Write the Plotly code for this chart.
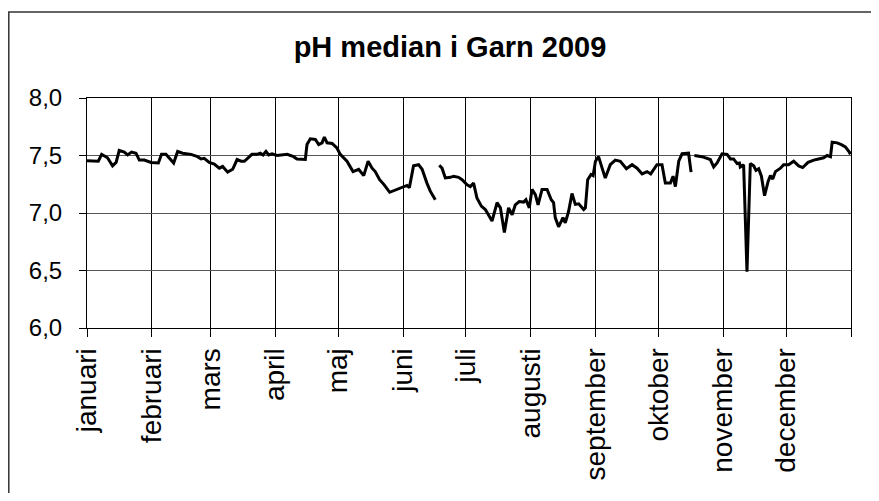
import plotly.graph_objects as go

# Day of year (0 = 1 January 2009) and median pH; None marks gaps in the record
days = [0.0, 2.7, 5.4, 7.0, 9.8, 12.2, 13.9, 15.4, 17.8, 19.4, 21.3, 23.4, 25.0, 27.4, 30.6,
        34.1, 35.6, 37.7, 39.3, 41.4, 43.3, 45.7, 49.7, 52.8, 54.5, 56.0, 58.4, 60.8, 63.2,
        64.8, 67.2, 69.6, 71.7, 73.6, 75.2, 78.8, 81.2, 82.8, 84.1, 85.5, 86.8, 88.4, 90.8,
        95.6, 98.7, 100.3, 104.3, 105.1, 106.7, 109.1, 110.7, 112.3, 113.4, 114.7, 117.1,
        119.4, 121.0, 124.2, 127.1, 129.8, 132.2, 134.3, 136.2, 137.7, 139.8, 142.0, 144.6,
        147.3, 149.7, 151.3, 152.9, 154.0, 155.0, 156.0, 158.4, 160.1, 162.4, 164.0, 166.4,
        167.3,
        168.3, 169.6, 171.2, 173.6, 175.2, 177.5, 179.2, 181.6, 183.1, 184.7, 186.3, 188.4,
        190.3, 193.5, 195.9, 197.5, 199.4, 201.4, 203.1, 204.6, 206.5, 208.6, 209.7, 211.3,
        212.6, 214.2, 215.5, 217.4, 219.8, 221.8, 222.9, 223.7, 225.3, 227.4, 228.5, 230.1,
        231.7, 233.3, 234.9, 237.3, 238.1, 239.2, 240.8, 241.8, 242.9, 244.4, 246.1, 247.6,
        250.0, 252.4, 254.8, 257.7, 260.4, 262.8, 265.2, 267.6, 269.3, 272.3, 274.7, 276.3,
        278.7, 280.0, 281.1, 282.7, 284.3, 285.8, 287.4, 288.6,
        289.4,
        290.2, 293.8, 297.8, 299.4, 301.0, 303.4, 305.8, 307.4, 308.9, 310.6, 311.7, 312.1,
        313.7, 315.3, 316.9, 318.5, 319.6, 320.9, 322.2, 323.7, 325.4, 326.5, 327.6, 328.9,
        331.3, 332.8, 335.2, 337.6, 340.0, 341.9, 344.5, 347.2, 349.5, 351.9, 353.6, 355.2,
        356.0, 358.4, 360.4, 362.3, 364.2, 364.7]

ph = [7.455, 7.45, 7.45, 7.51, 7.48, 7.41, 7.44, 7.545, 7.53, 7.505, 7.53, 7.52, 7.46, 7.46, 7.44,
      7.435, 7.51, 7.51, 7.48, 7.435, 7.535, 7.52, 7.51, 7.49, 7.47, 7.475, 7.44, 7.425, 7.39,
      7.405, 7.355, 7.38, 7.465, 7.45, 7.45, 7.51, 7.51, 7.52, 7.505, 7.535, 7.505, 7.515, 7.50,
      7.51, 7.49, 7.47, 7.465, 7.595, 7.645, 7.64, 7.595, 7.61, 7.66, 7.61, 7.605,
      7.565, 7.51, 7.45, 7.36, 7.38, 7.325, 7.45, 7.39, 7.36, 7.29, 7.245, 7.18,
      7.20, 7.22, 7.225, 7.24, 7.22, 7.32, 7.41, 7.42, 7.38, 7.26, 7.19, 7.115,
      None,
      7.415, 7.39, 7.305, 7.31, 7.32, 7.31, 7.29, 7.245, 7.23, 7.26, 7.13, 7.06,
      7.03, 6.93, 7.09, 7.045, 6.83, 7.045, 6.985, 7.07, 7.10, 7.095, 7.115, 7.045,
      7.205, 7.16, 7.07, 7.205, 7.205, 7.115, 7.09, 6.96, 6.88, 6.96, 6.915, 7.015,
      7.17, 7.075, 7.08, 7.03, 7.045, 7.29, 7.335, 7.325, 7.45, 7.49, 7.39, 7.305,
      7.42, 7.46, 7.45, 7.385, 7.42, 7.39, 7.34, 7.36, 7.34, 7.42, 7.42, 7.26,
      7.26, 7.32, 7.23, 7.45, 7.515, 7.515, 7.52, 7.355,
      None,
      7.50, 7.49, 7.465, 7.40, 7.435, 7.515, 7.51, 7.47, 7.47, 7.43, 7.435, 7.40,
      7.42, 6.49, 7.43, 7.41, 7.37, 7.385, 7.32, 7.15, 7.275, 7.325, 7.295, 7.36,
      7.39, 7.42, 7.42, 7.45, 7.41, 7.395, 7.44, 7.46, 7.47, 7.48, 7.50, 7.49,
      7.615, 7.61, 7.595, 7.575, 7.53, 7.51]

month_starts = [0, 31, 59, 90, 120, 151, 181, 212, 243, 273, 304, 334]
month_labels = ["januari", "februari", "mars", "april", "maj", "juni", "juli",
                "augusti", "september", "oktober", "november", "december"]
y_ticks = [6.0, 6.5, 7.0, 7.5, 8.0]
title_text = "pH median i Garn 2009"

FONT = "Arial, Liberation Sans, sans-serif"
# the page body adds an 8 px margin, so the figure is sized to fit the window
W, H = 871, 485
ML, MR, MT, MB = 79, 28, 90, 165

fig = go.Figure()
fig.add_trace(go.Scatter(x=days, y=ph, mode="lines", connectgaps=False,
                         line=dict(color="black", width=3), hoverinfo="skip",
                         showlegend=False))

fig.update_layout(
    template="none",
    width=W, height=H,
    margin=dict(l=ML, r=MR, t=MT, b=MB, autoexpand=False),
    paper_bgcolor="white", plot_bgcolor="white",
    separators=", ",
    font=dict(family=FONT, color="black"),
    title=dict(text="<b>" + title_text + "</b>", x=442 / W, xanchor="center",
               y=1 - 39 / H, yanchor="middle", yref="container",
               font=dict(size=29, family=FONT, color="black")),
)
fig.update_xaxes(range=[0, 365], tickmode="array", tickvals=month_starts + [365],
                 ticktext=month_labels + [""], tickangle=-90,
                 tickfont=dict(size=28, family=FONT, color="black"),
                 ticks="outside", ticklen=8, tickcolor="black", tickwidth=1,
                 showgrid=True, gridcolor="black", gridwidth=1,
                 showline=True, linecolor="black", linewidth=1, mirror=True,
                 zeroline=False)
fig.update_yaxes(range=[6.0, 8.0], tickmode="array", tickvals=y_ticks,
                 tickformat=".1f",
                 tickfont=dict(size=24, family=FONT, color="black"),
                 ticks="outside", ticklen=7, tickcolor="black", tickwidth=1,
                 showgrid=True, gridcolor="#555555", gridwidth=1,
                 showline=True, linecolor="black", linewidth=1, mirror=True,
                 zeroline=False, ticklabelstandoff=12)

# outer chart-area frame (left, top and right edges; bottom lies below the window)
pw, phh = W - ML - MR, H - MT - MB
fx0, fx1 = (0.8 - ML) / pw, (867.5 - ML) / pw
fy0, fy1 = (H - MB - H - 5) / phh, (H - MB - 4) / phh
fig.add_shape(type="path", xref="paper", yref="paper",
              path=f"M {fx0} {fy0} L {fx0} {fy1} L {fx1} {fy1} L {fx1} {fy0}",
              line=dict(color="#333333", width=1.5))

fig.write_html("out.html")
